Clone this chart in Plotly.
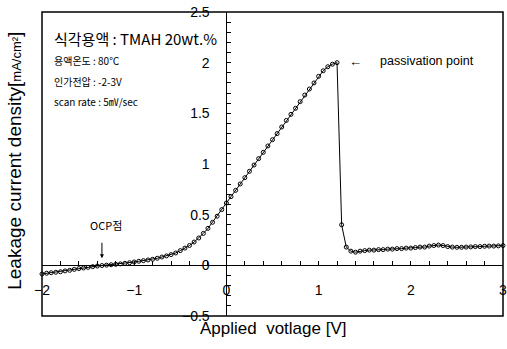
import plotly.graph_objects as go

# Applied voltage [V]
voltage = [
    -2.00, -1.95, -1.90, -1.85, -1.80, -1.75, -1.70, -1.65, -1.60, -1.55,
    -1.50, -1.45, -1.40, -1.35, -1.30, -1.25, -1.20, -1.15, -1.10, -1.05,
    -1.00, -0.95, -0.90, -0.85, -0.80, -0.75, -0.70, -0.65, -0.60, -0.55,
    -0.50, -0.45, -0.40, -0.35, -0.30, -0.25, -0.20, -0.15, -0.10, -0.05,
    0.00, 0.05, 0.10, 0.15, 0.20, 0.25, 0.30, 0.35, 0.40, 0.45,
    0.50, 0.55, 0.60, 0.65, 0.70, 0.75, 0.80, 0.85, 0.90, 0.95,
    1.00, 1.05, 1.10, 1.15, 1.20, 1.25, 1.30, 1.35, 1.40, 1.45,
    1.50, 1.55, 1.60, 1.65, 1.70, 1.75, 1.80, 1.85, 1.90, 1.95,
    2.00, 2.05, 2.10, 2.15, 2.20, 2.25, 2.30, 2.35, 2.40, 2.45,
    2.50, 2.55, 2.60, 2.65, 2.70, 2.75, 2.80, 2.85, 2.90, 2.95,
    3.00,
]

# Leakage current density [mA/cm2]
current = [
    -0.085, -0.078, -0.073, -0.068, -0.063, -0.055, -0.049, -0.040, -0.032, -0.026,
    -0.020, -0.013, -0.007, -0.002, 0.002, 0.006, 0.010, 0.014, 0.020, 0.026,
    0.033, 0.040, 0.046, 0.053, 0.060, 0.070, 0.082, 0.093, 0.106, 0.122,
    0.145, 0.170, 0.196, 0.230, 0.270, 0.315, 0.365, 0.425, 0.485, 0.550,
    0.615, 0.678, 0.740, 0.803, 0.865, 0.928, 0.990, 1.053, 1.115, 1.178,
    1.240, 1.300, 1.365, 1.430, 1.490, 1.550, 1.615, 1.680, 1.740, 1.800,
    1.865, 1.920, 1.960, 1.985, 2.000, 0.400, 0.180, 0.140, 0.130, 0.140,
    0.145, 0.150, 0.150, 0.155, 0.155, 0.160, 0.160, 0.165, 0.165, 0.170,
    0.170, 0.175, 0.180, 0.180, 0.190, 0.195, 0.200, 0.195, 0.185, 0.180,
    0.178, 0.178, 0.180, 0.182, 0.185, 0.185, 0.188, 0.190, 0.190, 0.192,
    0.195,
]

x_major_step = 1
x_minor_step = 0.2
y_major_step = 0.5
y_minor_step = 0.1

info_title = "식각용액 : TMAH 20wt.%"
info_lines = ["용액온도 : 80℃", "인가전압 : -2-3V", "scan rate : 5㎷/sec"]

KR = "Noto Sans CJK KR"
SANS = "Liberation Sans, Arial, sans-serif"

fig = go.Figure()
fig.add_trace(go.Scatter(
    x=voltage, y=current, mode="lines+markers",
    line=dict(color="black", width=1),
    marker=dict(symbol="circle-open", size=4, color="black", line=dict(width=1)),
    showlegend=False, hoverinfo="skip", cliponaxis=False,
))

xr = [-2, 3]
yr = [-0.5, 2.5]

fig.update_layout(
    width=507, height=349,
    margin=dict(l=42, r=4, t=12, b=33, autoexpand=False),
    paper_bgcolor="white", plot_bgcolor="white",
    font=dict(family=SANS, color="black", size=14),
    xaxis=dict(
        range=xr, anchor="free", position=(0 - yr[0]) / (yr[1] - yr[0]),
        tickmode="linear", tick0=0, dtick=x_major_step,
        ticks="inside", ticklen=4, tickcolor="black",
        minor=dict(dtick=x_minor_step, tick0=0, ticks="inside", ticklen=4, tickcolor="black"),
        showline=True, linecolor="black", linewidth=1,
        showgrid=False, zeroline=False, ticklabelstandoff=12, automargin=False,
        ticklabeloverflow="allow",
        tickfont=dict(size=14, family=SANS),
    ),
    yaxis=dict(
        range=yr, anchor="free", position=(0 - xr[0]) / (xr[1] - xr[0]),
        tickmode="linear", tick0=0, dtick=y_major_step,
        ticks="inside", ticklen=4, tickcolor="black",
        minor=dict(dtick=y_minor_step, tick0=0, ticks="inside", ticklen=4, tickcolor="black"),
        showline=True, linecolor="black", linewidth=1,
        showgrid=False, zeroline=False, ticklabelstandoff=14, automargin=False,
        ticklabeloverflow="allow",
        tickfont=dict(size=14, family=SANS),
    ),
)

# frame
fig.add_shape(type="rect", xref="paper", yref="paper", x0=0, y0=0, x1=1, y1=1,
              line=dict(color="black", width=1.5), layer="above")

# axis titles
fig.add_annotation(xref="paper", yref="paper", x=0.5, y=-0.04, yanchor="middle",
                   text="Applied  votlage [V]", showarrow=False,
                   font=dict(size=17, family=SANS))
fig.add_annotation(xref="paper", yref="paper", x=-0.059, y=0.51, xanchor="center",
                   text="Leakage current density[<span style='font-size:13px'>mA/cm²</span>]",
                   textangle=-90, showarrow=False, font=dict(size=19, family=SANS))

# info text
fig.add_annotation(xref="paper", yref="paper", x=0.022, y=0.955, xanchor="left",
                   text=info_title, showarrow=False, font=dict(size=15, family=KR))
for i, t in enumerate(info_lines):
    fig.add_annotation(xref="paper", yref="paper", x=0.022, y=0.872 - i * 0.068,
                       xanchor="left", text=t, showarrow=False,
                       font=dict(size=10, family=KR))

# passivation point
fig.add_annotation(x=1.31, y=2.01, xanchor="left", text="←", showarrow=False,
                   font=dict(size=13, family=SANS))
fig.add_annotation(x=1.64, y=2.02, xanchor="left", text="passivation point",
                   showarrow=False, font=dict(size=12.5, family=SANS))

# OCP point
fig.add_annotation(x=-1.31, y=0.40, text="OCP점", showarrow=False,
                   font=dict(size=11, family=KR))
fig.add_annotation(x=-1.35, y=0.07, ax=0, ay=-17, text="", showarrow=True,
                   arrowhead=2, arrowsize=0.8, arrowwidth=1, arrowcolor="black")

fig.write_html("out.html", post_script="document.body.style.margin='0px';",
               config={"displayModeBar": False})
